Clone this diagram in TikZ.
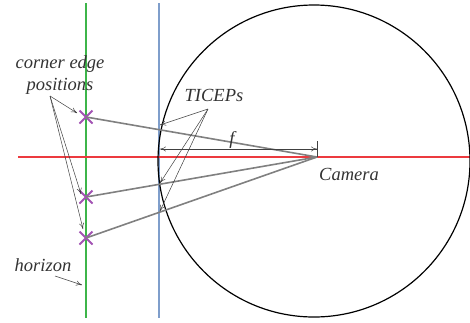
\documentclass[tikz,border=0pt]{standalone}
\usepackage{fontspec}
\setmainfont{Liberation Serif}
\usetikzlibrary{arrows.meta,shapes.misc}
\definecolor{hzgreen}{HTML}{3DB54A}
\definecolor{imblue}{HTML}{7F9ECB}
\definecolor{axred}{HTML}{EC3A3F}
\definecolor{rygray}{HTML}{808080}
\definecolor{xpurple}{HTML}{A253B3}

\begin{document}
\begin{tikzpicture}[
  x=1pt, y=-1pt,
  ray/.style={draw=rygray, line width=1.6pt},
  xmark/.style={cross out, draw=xpurple, line width=2pt, minimum size=11pt, inner sep=0pt},
  ptr/.style={-{To[length=6pt,width=5pt]}, line width=0.5pt, draw=black!75},
  txt/.style={inner sep=0pt, align=center, text=black!80, font=\itshape\fontsize{18.5pt}{22pt}\selectfont}
]
\useasboundingbox (0,0) rectangle (470,322);
% lines
\draw[hzgreen, line width=1.5pt] (86,3) -- (86,318);
\draw[imblue, line width=1.5pt] (159,3) -- (159,318);
\draw[axred, line width=1.5pt] (18,157) -- (470,157);
\draw[black, line width=1.2pt] (314,161) circle (156);
% camera and corners
\coordinate (cam) at (317,157);
\node[xmark] (c1) at (86,117) {};
\node[xmark] (c2) at (86,197) {};
\node[xmark] (c3) at (86,238) {};
\draw[ray] (c1.center) -- (cam);
\draw[ray] (c2.center) -- (cam);
\draw[ray] (c3.center) -- (cam);
% focal length
\coordinate (fl) at (160,149);
\coordinate (fr) at (317,149);
\draw[line width=0.5pt, draw=black!75] (317,141) -- (cam);
\draw[{To[length=6pt,width=5pt]}-{To[length=6pt,width=5pt]}, line width=0.5pt, draw=black!75] (fl) -- (fr);
\node[txt] (f) at (232,140) {f};
% labels
\node[txt] (corner) at (60,75) {corner edge\\positions};
\coordinate (cs) at (50,96);
\draw[ptr] (cs) -- (77,113);
\draw[ptr] (cs) -- (81,194);
\draw[ptr] (cs) -- (83,229);
\node[txt] (ticeps) at (214,95) {TICEPs};
\coordinate (ts) at (208,109);
\coordinate (t1) at (160,125);
\coordinate (t2) at (160,183);
\coordinate (t3) at (160,211);
\draw[ptr] (ts) -- (t1);
\draw[ptr] (ts) -- (t2);
\draw[ptr] (ts) -- (t3);
\node[txt] (horizon) at (43,265) {horizon};
\draw[ptr] (55,276) -- (82,285);
\node[txt] (camera) at (349,174) {Camera};
\end{tikzpicture}
\end{document}
